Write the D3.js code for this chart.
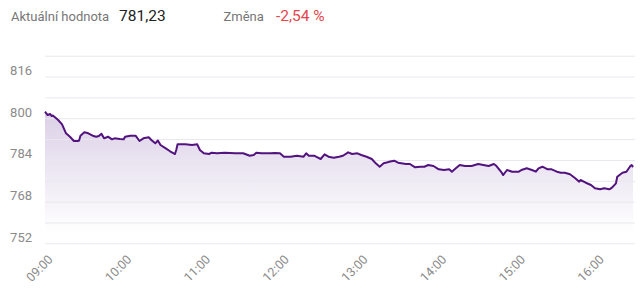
<!DOCTYPE html>
<html><head><meta charset="utf-8">
<script src="https://cdn.jsdelivr.net/npm/d3@7"></script>
<style>
html,body{margin:0;padding:0;background:#fff;}
svg{display:block;font-family:Roboto,"Noto Sans",sans-serif;}
</style></head><body>
<svg id="c" width="640" height="290"></svg>
<script>
const times = ["09:00","09:02","09:04","09:05","09:06","09:10","09:13","09:16","09:19","09:22","09:25","09:26","09:27","09:30","09:33","09:37","09:39","09:41","09:43","09:45","09:48","09:51","09:53","09:57","10:00","10:01","10:05","10:09","10:12","10:15","10:19","10:21","10:24","10:26","10:28","10:32","10:35","10:39","10:40","10:41","10:47","10:52","10:56","10:58","11:01","11:05","11:07","11:11","11:17","11:25","11:31","11:36","11:39","11:41","11:45","11:52","11:55","11:59","12:02","12:07","12:12","12:17","12:19","12:21","12:25","12:28","12:30","12:33","12:36","12:40","12:44","12:47","12:51","12:54","12:58","13:01","13:05","13:09","13:12","13:15","13:18","13:21","13:23","13:26","13:29","13:35","13:38","13:42","13:46","13:49","13:52","13:56","14:00","14:04","14:08","14:10","14:13","14:16","14:20","14:25","14:30","14:34","14:38","14:42","14:44","14:48","14:49","14:52","14:56","15:01","15:03","15:07","15:11","15:14","15:16","15:19","15:23","15:26","15:30","15:33","15:36","15:40","15:44","15:47","15:48","15:52","15:56","15:59","16:03","16:06","16:10","16:12","16:15","16:16","16:20","16:23","16:26","16:27","16:28"];
const values = [802.50,801.23,801.62,800.85,801.04,799.31,797.66,794.21,792.91,791.26,791.26,791.45,793.29,794.59,794.21,793.17,792.91,793.17,794.06,792.29,792.91,791.91,792.29,792.02,791.91,792.91,793.29,793.29,791.26,792.29,792.68,791.64,790.37,791.45,789.72,788.45,787.42,786.27,787.80,789.99,789.99,789.72,789.99,787.80,786.54,786.27,786.77,786.54,786.77,786.54,786.54,785.61,785.88,786.77,786.54,786.54,786.65,786.54,785.23,785.23,785.61,785.23,786.54,785.61,785.61,784.85,784.35,786.15,785.23,784.85,785.23,785.61,786.92,786.27,786.54,785.88,785.23,784.35,782.70,781.39,782.70,783.08,783.39,783.70,782.93,782.43,782.43,781.16,781.39,781.39,782.05,781.66,780.40,780.13,780.40,779.48,780.78,782.05,781.66,781.66,782.43,782.05,781.66,782.43,781.66,779.09,778.21,780.13,779.48,779.48,780.13,780.78,780.13,779.48,780.78,781.39,780.40,780.40,779.48,779.09,779.09,778.48,776.94,775.64,776.29,775.25,774.37,773.11,772.72,773.11,772.72,773.34,775.02,777.56,779.09,779.48,781.66,782.05,781.23];
const yTickLabels = [752, 768, 784, 800, 816];
const yGridValues = [752, 760, 768, 776, 784, 792, 800, 808, 816, 824];
const xTickLabels = ["09:00","10:00","11:00","12:00","13:00","14:00","15:00","16:00"];
const headerLabel = "Aktuální hodnota", headerValue = "781,23";
const changeLabel = "Změna", changeValue = "-2,54 %";

const parse = d3.timeParse("%H:%M");
const data = times.map((t,i)=>({t:parse(t), v:values[i]}));

const svg = d3.select("#c");
const L = 45, R = 633, T = 55.7, B = 243.3;
const x = d3.scaleTime().domain([parse(times[0]), parse(times[times.length-1])]).range([L, R]);
const y = d3.scaleLinear().domain([752, 824]).range([B, T]);

// header
const hdr = svg.append("g");
hdr.append("text").attr("x",11).attr("y",20.5).attr("font-size",13).attr("fill","#767676").text(headerLabel);
hdr.append("text").attr("x",119).attr("y",21).attr("font-size",15.5).attr("fill","#222").text(headerValue);
hdr.append("text").attr("x",223.5).attr("y",20.5).attr("font-size",13).attr("fill","#767676").text(changeLabel);
hdr.append("text").attr("x",276).attr("y",21).attr("font-size",15.5).attr("fill","#e5454c").text(changeValue);

// gradient
const defs = svg.append("defs");
const g = defs.append("linearGradient").attr("id","fillg").attr("gradientUnits","userSpaceOnUse")
  .attr("x1",0).attr("x2",0).attr("y1",y(802)).attr("y2",y(756));
g.append("stop").attr("offset",0).attr("stop-color","#6a3d9a").attr("stop-opacity",0.24);
g.append("stop").attr("offset",1).attr("stop-color","#6a3d9a").attr("stop-opacity",0);

// area
svg.append("path").datum(data)
  .attr("d", d3.area().x(d=>x(d.t)).y0(B).y1(d=>y(d.v)))
  .attr("fill","url(#fillg)");

// grid
const yAxis = d3.axisLeft(y).tickValues(yGridValues).tickSize(-(R - L + 2)).tickFormat(d=> yTickLabels.includes(d) ? d : "");
const ya = svg.append("g").attr("transform",`translate(${L},0)`).call(yAxis);
ya.select(".domain").remove();
ya.selectAll(".tick line").attr("stroke","#e9e7ee").attr("stroke-width",1);
ya.selectAll(".tick text").attr("x",-13).attr("dy",-2).attr("fill","#8a8a8a").attr("font-size",13)
  .attr("font-family","Roboto,sans-serif");

// line
svg.append("path").datum(data)
  .attr("d", d3.line().x(d=>x(d.t)).y(d=>y(d.v)))
  .attr("fill","none").attr("stroke","#53137f").attr("stroke-width",2).attr("stroke-linejoin","round");

// x axis
const xAxis = d3.axisBottom(x).tickValues(xTickLabels.map(parse)).tickSize(0).tickFormat(d3.timeFormat("%H:%M"));
const xa = svg.append("g").attr("transform",`translate(0,${B})`).call(xAxis);
xa.select(".domain").remove();
xa.selectAll(".tick text").attr("fill","#8a8a8a").attr("font-size",12.5).attr("font-family","Roboto,sans-serif")
  .attr("text-anchor","end").attr("y",0).attr("dy","0.35em")
  .attr("transform","translate(5,14) rotate(-45)");
</script>
</body></html>
